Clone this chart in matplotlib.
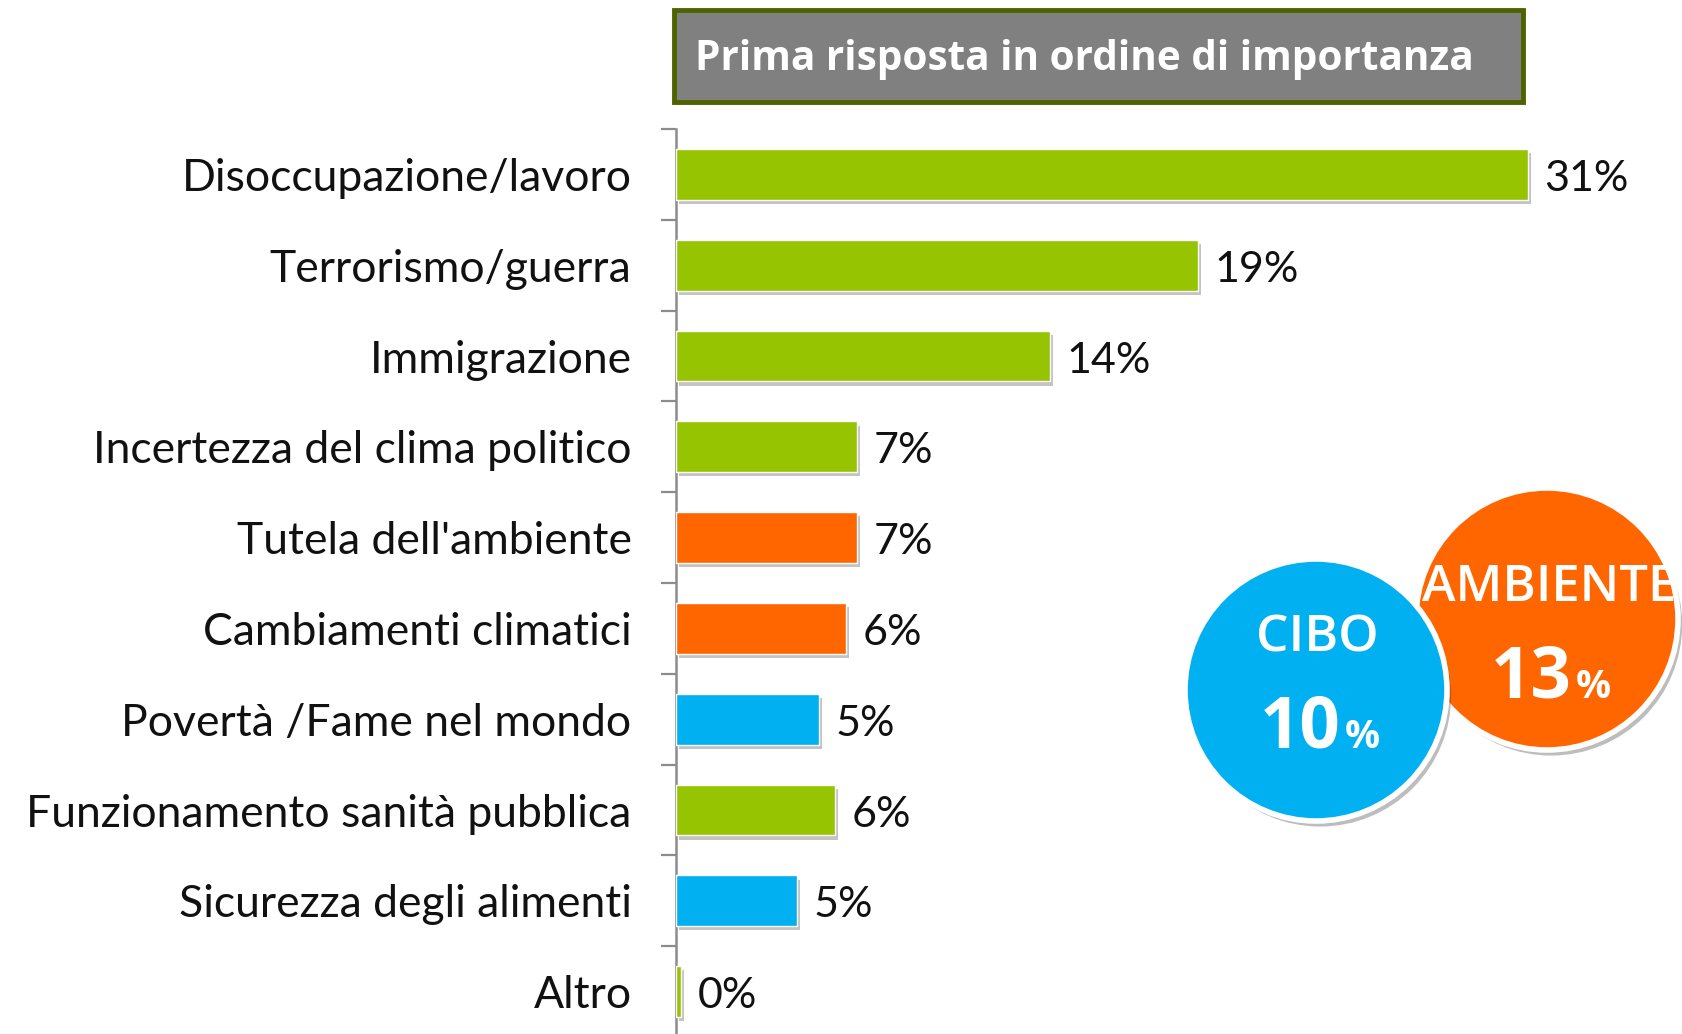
import matplotlib.pyplot as plt
import matplotlib.patheffects as pe
from matplotlib.patches import Circle, Rectangle

categories = [
    "Disoccupazione/lavoro",
    "Terrorismo/guerra",
    "Immigrazione",
    "Incertezza del clima politico",
    "Tutela dell'ambiente",
    "Cambiamenti climatici",
    "Povertà /Fame nel mondo",
    "Funzionamento sanità pubblica",
    "Sicurezza degli alimenti",
    "Altro",
]
values = [31.0, 19.0, 13.6, 6.6, 6.6, 6.2, 5.2, 5.8, 4.4, 0.2]
value_labels = ["31%", "19%", "14%", "7%", "7%", "6%", "5%", "6%", "5%", "0%"]
groups = ["altro", "altro", "altro", "altro", "ambiente", "ambiente",
          "cibo", "altro", "cibo", "altro"]

title = "Prima risposta in ordine di importanza"
cibo_total = "10"
ambiente_total = "13"

GREEN = "#96C400"
ORANGE = "#FF6600"
BLUE = "#00B0F0"
group_colors = {"altro": GREEN, "ambiente": ORANGE, "cibo": BLUE}

W, H = 1682, 1034
plt.rcParams["font.family"] = ["Lato", "DejaVu Sans"]

fig = plt.figure(figsize=(W / 100, H / 100), dpi=100)
ax = fig.add_axes([676 / W, -3 / H, 1 - 676 / W, 908 / H])

y = list(range(len(categories)))
shadow = [pe.SimplePatchShadow(offset=(2, -3), shadow_rgbFace="#555555", alpha=0.35),
          pe.Normal()]
bars = ax.barh(y, values, height=0.56,
               color=[group_colors[g] for g in groups],
               edgecolor="white", linewidth=1.0, zorder=3)
for b in bars:
    b.set_path_effects(shadow)

for yi, v, lab in zip(y, values, value_labels):
    ax.text(v + 0.6, yi + 0.05, lab, va="center", ha="left",
            fontsize=31, color="#111111")

ax.set_xlim(0, 36.6)
ax.set_ylim(len(categories) - 0.5, -0.5)
ax.set_yticks(y)
ax.set_yticklabels(categories, fontsize=32, color="#111111")
ax.tick_params(axis="y", which="major", length=0, pad=32)
ax.set_yticks([i - 0.5 for i in range(len(categories) + 1)], minor=True)
ax.tick_params(axis="y", which="minor", length=11, width=1.6, color="#8C8C8C")
ax.set_xticks([])
for side in ("top", "right", "bottom"):
    ax.spines[side].set_visible(False)
ax.spines["left"].set_color("#8C8C8C")
ax.spines["left"].set_linewidth(1.8)

# overlay in pixel coordinates for title box and circles
ov = fig.add_axes([0, 0, 1, 1], zorder=5)
ov.set_xlim(0, W)
ov.set_ylim(H, 0)
ov.axis("off")

ov.add_patch(Rectangle((674, 10), 849, 92, facecolor="#808080",
                       edgecolor="#4E6300", linewidth=3.5))
ov.text(695, 60, title, ha="left", va="center", color="white",
        fontsize=29.2, fontweight="bold",
        family=["Open Sans", "DejaVu Sans"])

circ_shadow = [pe.SimplePatchShadow(offset=(3, -4), shadow_rgbFace="#444444", alpha=0.35),
               pe.Normal()]
orange_c = Circle((1547, 619), 131, facecolor=ORANGE, edgecolor="white",
                  linewidth=4, zorder=1)
blue_c = Circle((1316, 690), 131, facecolor=BLUE, edgecolor="white",
                linewidth=4, zorder=2)
for c in (orange_c, blue_c):
    c.set_path_effects(circ_shadow)
    ov.add_patch(c)

cf = ["Open Sans", "DejaVu Sans"]
ov.text(1317, 638, "CIBO", ha="center", va="center", color="white",
        fontsize=37, fontweight="semibold", family=cf, zorder=4)
ov.text(1341, 748, cibo_total, ha="right", va="baseline", color="white",
        fontsize=51, fontweight="bold", family=cf, zorder=4)
ov.text(1345, 748, "%", ha="left", va="baseline", color="white",
        fontsize=28, fontweight="bold", family=cf, zorder=4)
ov.text(1549, 588, "AMBIENTE", ha="center", va="center", color="white",
        fontsize=36.5, fontweight="semibold", family=cf, zorder=3)
ov.text(1572, 698, ambiente_total, ha="right", va="baseline", color="white",
        fontsize=51, fontweight="bold", family=cf, zorder=3)
ov.text(1576, 698, "%", ha="left", va="baseline", color="white",
        fontsize=28, fontweight="bold", family=cf, zorder=3)

fig.savefig("out.png", dpi=100)
